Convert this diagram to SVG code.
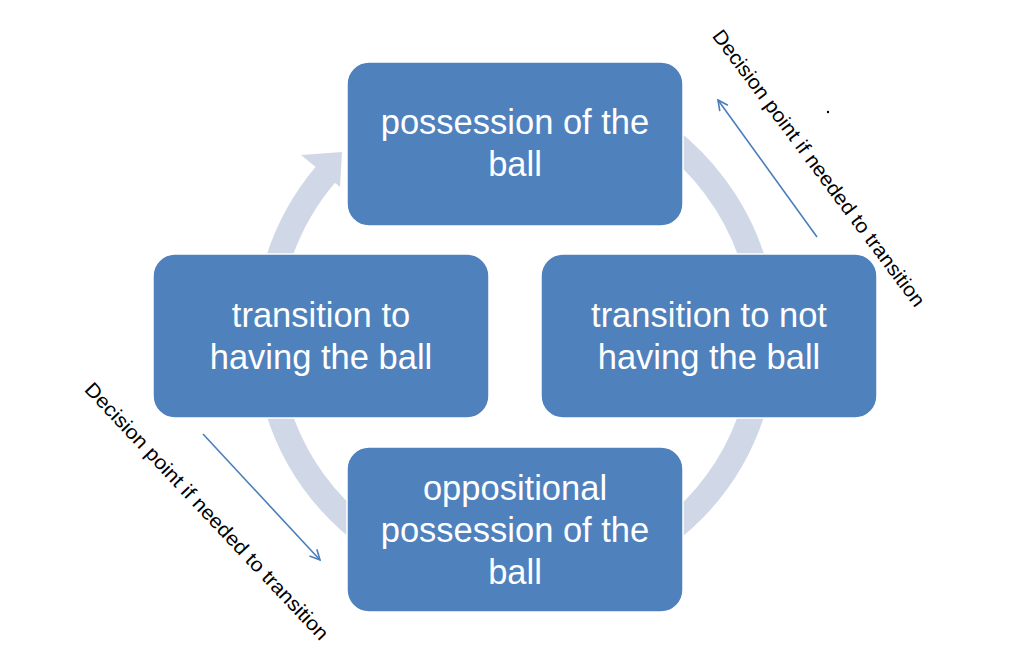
<svg xmlns="http://www.w3.org/2000/svg" width="1024" height="656" viewBox="0 0 1024 656">
<style>
.box{fill:#4f81bd;stroke:#ffffff;stroke-width:1.5}
.lbl{font-family:"Liberation Sans",Arial,sans-serif;font-size:34.5px;fill:#ffffff;text-anchor:middle}
.note{font-family:"Liberation Sans",Arial,sans-serif;font-size:20px;fill:#000000;text-anchor:middle}
.conn{fill:none;stroke:#4a7ebb;stroke-width:1.6}
</style>
<defs>
<marker id="open" viewBox="0 0 12 12" refX="11" refY="6" markerWidth="12" markerHeight="12" markerUnits="userSpaceOnUse" orient="auto">
<path d="M1,1 L11,6 L1,11" fill="none" stroke="#4a7ebb" stroke-width="1.6"/>
</marker>
</defs>
<rect width="1024" height="656" fill="#ffffff"/>
<g id="ring">
<path d="M372,132 A249,249 0 1 1 325.7,174.3" fill="none" stroke="#d0d8e8" stroke-width="25"/>
<polygon points="301,155 342,152 340,187" fill="#d0d8e8"/>
</g>
<g id="connectors">
<line class="conn" x1="817" y1="237" x2="718" y2="100" marker-end="url(#open)"/>
<line class="conn" x1="203" y1="434" x2="320" y2="560" marker-end="url(#open)"/>
</g>
<g id="node-top">
<rect class="box" x="347" y="62" width="336" height="164" rx="22"/>
<text class="lbl" x="515" y="134">possession of the</text>
<text class="lbl" x="515" y="176">ball</text>
</g>
<g id="node-left">
<rect class="box" x="153" y="254" width="336" height="164" rx="22"/>
<text class="lbl" x="321" y="327">transition to</text>
<text class="lbl" x="321" y="369">having the ball</text>
</g>
<g id="node-right">
<rect class="box" x="541" y="254" width="336" height="164" rx="22"/>
<text class="lbl" x="709" y="327">transition to not</text>
<text class="lbl" x="709" y="369">having the ball</text>
</g>
<g id="node-bottom">
<rect class="box" x="347" y="447" width="336" height="165" rx="22"/>
<text class="lbl" x="515" y="500">oppositional</text>
<text class="lbl" x="515" y="542">possession of the</text>
<text class="lbl" x="515" y="584">ball</text>
</g>
<g id="notes">
<text class="note" transform="translate(819,168) rotate(53.2)" x="0" y="7" textLength="340" lengthAdjust="spacingAndGlyphs">Decision point if needed to transition</text>
<text class="note" transform="translate(207,511) rotate(46.7)" x="0" y="7" textLength="345" lengthAdjust="spacingAndGlyphs">Decision point if needed to transition</text>
<circle cx="828" cy="112" r="1.2" fill="#000000"/>
</g>
</svg>
